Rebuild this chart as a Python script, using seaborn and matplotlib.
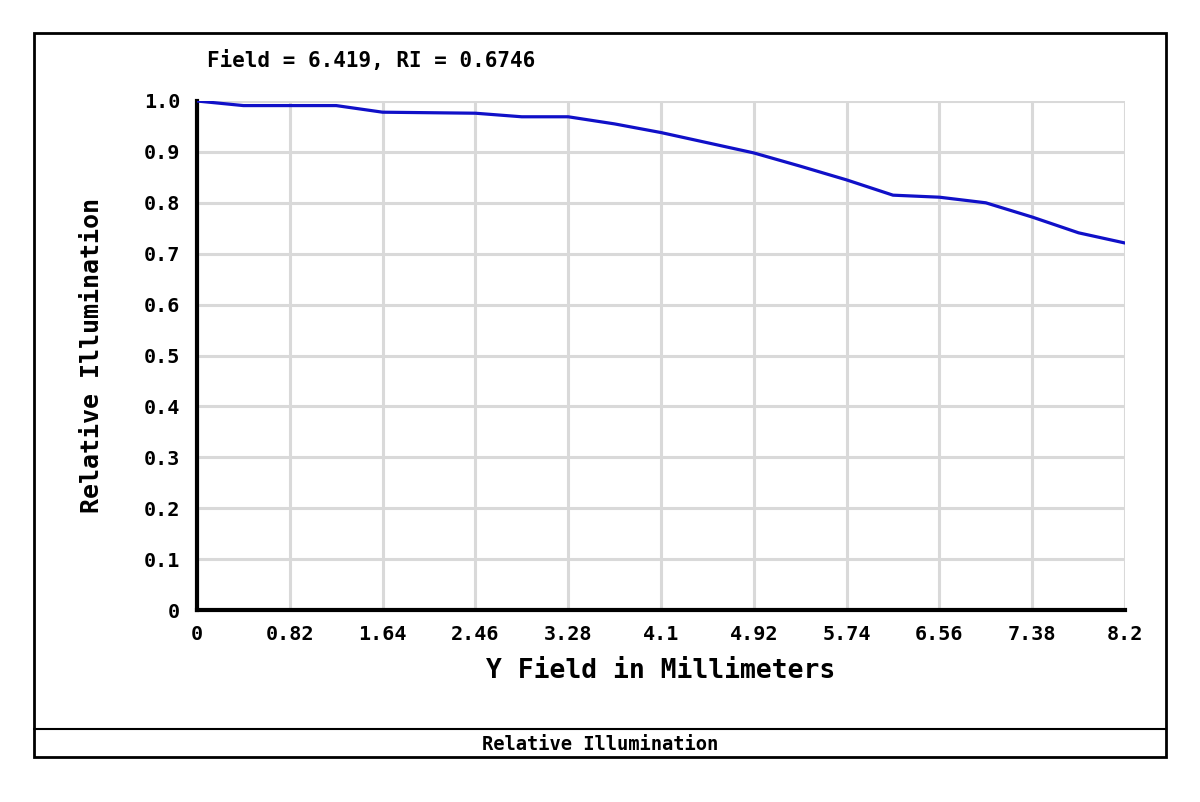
import matplotlib
matplotlib.use("Agg")
import matplotlib.pyplot as plt
from matplotlib.patches import Rectangle
from matplotlib.lines import Line2D
import pandas as pd
import seaborn as sns

# values
y_field = [0.0, 0.41, 0.82, 1.23, 1.64, 2.05, 2.46, 2.87, 3.28, 3.69, 4.1,
           4.51, 4.92, 5.33, 5.74, 6.15, 6.56, 6.97, 7.38, 7.79, 8.2]
rel_illum = [1.0, 0.991, 0.991, 0.991, 0.978, 0.977, 0.976, 0.969, 0.969, 0.955, 0.938,
             0.918, 0.898, 0.872, 0.845, 0.815, 0.811, 0.800, 0.772, 0.741, 0.721]
x_ticks = [0, 0.82, 1.64, 2.46, 3.28, 4.1, 4.92, 5.74, 6.56, 7.38, 8.2]
x_tick_labels = ["0", "0.82", "1.64", "2.46", "3.28", "4.1", "4.92", "5.74", "6.56", "7.38", "8.2"]
y_ticks = [0, 0.1, 0.2, 0.3, 0.4, 0.5, 0.6, 0.7, 0.8, 0.9, 1.0]
y_tick_labels = ["0", "0.1", "0.2", "0.3", "0.4", "0.5", "0.6", "0.7", "0.8", "0.9", "1.0"]
title_text = "Field = 6.419, RI = 0.6746"
caption = "Relative Illumination"

sns.set_theme(style="white")
plt.rcParams["font.family"] = ["DejaVu Sans Mono"]
plt.rcParams["font.weight"] = "bold"
plt.rcParams["text.color"] = "black"
plt.rcParams["axes.labelcolor"] = "black"

W, H = 1200, 802
fig = plt.figure(figsize=(W / 100, H / 100), dpi=100)
ax = fig.add_axes([197 / W, 1 - 610 / H, (1125 - 197) / W, (610 - 101) / H])

df = pd.DataFrame({"x": y_field, "y": rel_illum})
sns.lineplot(data=df, x="x", y="y", ax=ax, color="#1010c8", linewidth=2.3, zorder=5)

ax.set_xlim(0, 8.2)
ax.set_ylim(0, 1.0)
ax.set_xticks(x_ticks)
ax.set_xticklabels(x_tick_labels)
ax.set_yticks(y_ticks)
ax.set_yticklabels(y_tick_labels)
ax.grid(True, color="#d9d9d9", linewidth=2.2)
ax.set_axisbelow(True)
ax.tick_params(axis="both", labelsize=14.5, colors="black", direction="inout",
               length=6, width=1.2)
ax.tick_params(axis="x", pad=8)
ax.tick_params(axis="y", pad=9)
for lab in ax.get_xticklabels() + ax.get_yticklabels():
    lab.set_fontweight("bold")

for s in ["top", "right"]:
    ax.spines[s].set_visible(False)
ax.spines["left"].set_color("black")
ax.spines["left"].set_linewidth(3)
ax.spines["bottom"].set_color("black")
ax.spines["bottom"].set_linewidth(3)

ax.set_xlabel("Y Field in Millimeters", fontsize=19, fontweight="bold", labelpad=10)
ax.set_ylabel("Relative Illumination", fontsize=18, fontweight="bold", labelpad=29)

fig.text(207 / W, 1 - 60 / H, title_text, fontsize=15, fontweight="bold",
         ha="left", va="center", color="black")

# outer frame and caption strip
fig.patches.append(Rectangle((34 / W, 1 - 757 / H), (1166 - 34) / W, (757 - 33) / H,
                             transform=fig.transFigure, fill=False,
                             edgecolor="black", linewidth=2))
fig.lines.append(Line2D([34 / W, 1166 / W], [1 - 729 / H, 1 - 729 / H],
                        transform=fig.transFigure, color="black", linewidth=1.5))
fig.text(0.5, 1 - 744 / H, caption, fontsize=13.5, fontweight="bold",
         ha="center", va="center", color="black")

fig.savefig("out.png", dpi=100)
